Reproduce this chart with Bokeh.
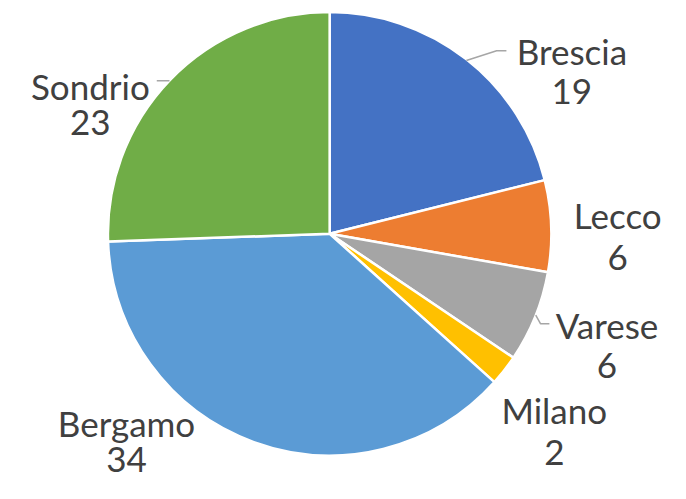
import math
from bokeh.plotting import figure
from bokeh.models import Range1d, ColumnDataSource
from bokeh.core.properties import value
from bokeh.embed import file_html
from bokeh.resources import INLINE

# data
cities = ["Brescia", "Lecco", "Varese", "Milano", "Bergamo", "Sondrio"]
counts = [19, 6, 6, 2, 34, 23]
colors = ["#4472C4", "#ED7D31", "#A5A5A5", "#FFC000", "#5B9BD5", "#70AD47"]

# layout (reference pixel coordinates 686x499; y measured from top)
RW, RH = 686, 499
cx, cy, r = 337, 241, 227
label_x = [585, 632, 621, 567, 129, 92]
label_base = [52, 222, 335, 423, 436, 88]
line_gaps = [42, 44, 42, 44, 38, 38]
leaders = {
    "Brescia": ([477, 508, 518], [62, 52, 52]),
    "Sondrio": ([160, 173], [83, 83]),
    "Varese": ([548, 553, 562], [325, 334, 334]),
}

def Y(y):
    return RH - y

p = figure(width=670, height=483, output_backend="svg", toolbar_location=None,
           x_range=Range1d(0, RW), y_range=Range1d(0, RH), min_border=0)
p.axis.visible = False
p.grid.visible = False
p.outline_line_color = None
p.background_fill_color = "white"
p.border_fill_color = "white"

total = sum(counts)
starts, ends = [], []
cum = 0
for c in counts:
    starts.append(math.pi / 2 - cum / total * 2 * math.pi)
    cum += c
    ends.append(math.pi / 2 - cum / total * 2 * math.pi)

src = ColumnDataSource(dict(x=[cx] * len(counts), y=[Y(cy)] * len(counts),
                            start=starts, end=ends, color=colors))
p.wedge(x="x", y="y", radius=r, start_angle="start", end_angle="end",
        direction="clock", fill_color="color", line_color="white", line_width=2.5,
        source=src)

for name, (xs, ys) in leaders.items():
    p.line(xs, [Y(v) for v in ys], line_color="#A6A6A6", line_width=1.5)

tsrc = ColumnDataSource(dict(
    x=label_x + label_x,
    y=[Y(b) for b in label_base] + [Y(b + g) for b, g in zip(label_base, line_gaps)],
    t=cities + [str(c) for c in counts]))
p.text(x="x", y="y", text="t", source=tsrc, text_align="center",
       text_baseline="alphabetic", text_font=value("Lato"), text_font_size="35px",
       text_color="#404040")

open("out.html", "w").write(file_html(p, INLINE))
